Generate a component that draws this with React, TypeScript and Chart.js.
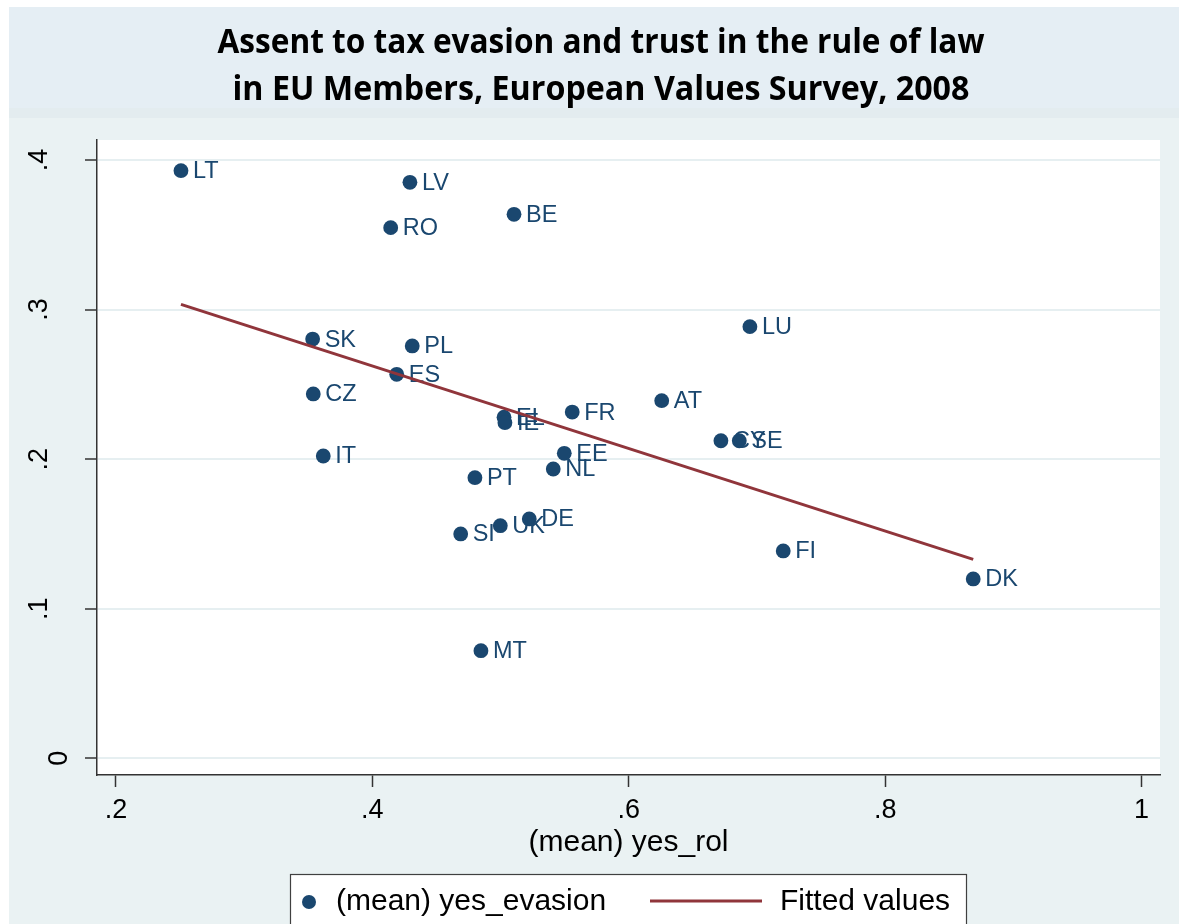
import React, { useEffect, useRef } from 'react';
import { Chart, registerables } from 'chart.js';

Chart.register(...registerables);

// ---------- data ----------
const countries = ['LT', 'LV', 'BE', 'RO', 'LU', 'SK', 'PL', 'ES', 'CZ', 'AT', 'FR', 'EL', 'IE', 'CY', 'SE', 'EE', 'IT', 'NL', 'PT', 'DE', 'UK', 'SI', 'FI', 'DK', 'MT'];
const yesRol = [0.2507, 0.4293, 0.5105, 0.4143, 0.6945, 0.3534, 0.4311, 0.419, 0.3539, 0.6257, 0.5559, 0.5027, 0.5034, 0.6719, 0.6862, 0.5497, 0.3617, 0.5411, 0.48, 0.5224, 0.4998, 0.4689, 0.7205, 0.8687, 0.4847];
const yesEvasion = [0.3929, 0.3851, 0.3637, 0.3548, 0.2886, 0.2803, 0.2757, 0.2567, 0.2436, 0.2391, 0.2315, 0.228, 0.2244, 0.2123, 0.2123, 0.2039, 0.2021, 0.1934, 0.1876, 0.16, 0.1555, 0.15, 0.1386, 0.1199, 0.0719];
const fittedX = [0.2507, 0.8687];
const fittedY = [0.3035, 0.133];
const xTicks = [0.2, 0.4, 0.6, 0.8, 1];
const xTickLabels = ['.2', '.4', '.6', '.8', '1'];
const yTicks = [0, 0.1, 0.2, 0.3, 0.4];
const yTickLabels = ['0', '.1', '.2', '.3', '.4'];
const titleLines = ['Assent to tax evasion and trust in the rule of law', 'in EU Members, European Values Survey, 2008'];
const xTitle = '(mean) yes_rol';
const legendLabels = ['(mean) yes_evasion', 'Fitted values'];

// ---------- styles ----------
const NAVY = '#1a476f';
const MAROON = '#90353b';
const AXIS = '#333333';
const SANS = '"Liberation Sans", Arial, sans-serif';

function drawFitText(ctx: CanvasRenderingContext2D, text: string, cx: number, baseline: number, font: string, targetW: number) {
  ctx.save();
  ctx.font = font;
  const w = ctx.measureText(text).width;
  const sx = targetW / w;
  ctx.translate(cx, baseline);
  ctx.scale(sx, 1);
  ctx.textAlign = 'center';
  ctx.textBaseline = 'alphabetic';
  ctx.fillText(text, 0, 0);
  ctx.restore();
}

const decorPlugin = {
  id: 'stataDecor',
  beforeDraw(chart: any) {
    const { ctx, chartArea: a, width, height } = chart;
    ctx.save();
    ctx.fillStyle = '#ffffff';
    ctx.fillRect(0, 0, width, height);
    ctx.fillStyle = '#EAF2F3';
    ctx.fillRect(9, 7, width - 9, height - 7);
    ctx.fillStyle = '#E5EEF4';
    ctx.fillRect(9, 7, width - 9, 101);
    ctx.fillStyle = '#E3ECEF';
    ctx.fillRect(9, 108, width - 9, 10);
    ctx.fillStyle = '#ffffff';
    ctx.fillRect(a.left, a.top, a.right - a.left, a.bottom - a.top);
    // title
    ctx.fillStyle = '#000000';
    drawFitText(ctx, titleLines[0], 601, 53, `bold 34px "Open Sans", ${SANS}`, 767);
    drawFitText(ctx, titleLines[1], 601, 100, `bold 34px "Open Sans", ${SANS}`, 737);
    ctx.restore();
  },
  afterDatasetDraw(chart: any, args: any) {
    if (args.index !== 0) return;
    const { ctx } = chart;
    const meta = chart.getDatasetMeta(0);
    ctx.save();
    ctx.fillStyle = NAVY;
    ctx.font = `23.5px ${SANS}`;
    ctx.textAlign = 'left';
    ctx.textBaseline = 'middle';
    meta.data.forEach((el: any, i: number) => {
      ctx.fillText(countries[i], el.x + 12, el.y + 1);
    });
    ctx.restore();
  },
  afterDraw(chart: any) {
    const { ctx, chartArea: a } = chart;
    const xs = chart.scales.x;
    const ys = chart.scales.y;
    ctx.save();
    ctx.fillStyle = '#000000';
    // x tick labels
    ctx.font = `27px ${SANS}`;
    ctx.textAlign = 'center';
    ctx.textBaseline = 'middle';
    xTicks.forEach((v, i) => {
      ctx.fillText(xTickLabels[i], xs.getPixelForValue(v), 811);
    });
    // y tick labels (rotated)
    yTicks.forEach((v, i) => {
      ctx.save();
      ctx.translate(yTickLabels[i] === '0' ? 60 : 40, ys.getPixelForValue(v));
      ctx.rotate(-Math.PI / 2);
      ctx.fillText(yTickLabels[i], 0, 0);
      ctx.restore();
    });
    // x title
    ctx.font = `30px ${SANS}`;
    ctx.fillText(xTitle, (a.left + a.right) / 2, 843);
    // legend
    ctx.fillStyle = '#ffffff';
    ctx.fillRect(290, 874, 676, 70);
    ctx.strokeStyle = '#404040';
    ctx.lineWidth = 1.2;
    ctx.strokeRect(290.5, 874.5, 676, 70);
    ctx.fillStyle = NAVY;
    ctx.beginPath();
    ctx.arc(309, 902, 7, 0, Math.PI * 2);
    ctx.fill();
    ctx.strokeStyle = MAROON;
    ctx.lineWidth = 3;
    ctx.beginPath();
    ctx.moveTo(650, 901);
    ctx.lineTo(762, 901);
    ctx.stroke();
    ctx.fillStyle = '#000000';
    ctx.font = `30px ${SANS}`;
    ctx.textAlign = 'left';
    ctx.fillText(legendLabels[0], 336, 902);
    ctx.fillText(legendLabels[1], 780, 902);
    ctx.restore();
  },
};

export default function App() {
  const ref = useRef<HTMLCanvasElement | null>(null);
  useEffect(() => {
    document.body.style.margin = '0';
    const canvas = ref.current;
    if (!canvas) return;
    const chart = new Chart(canvas, {
      type: 'scatter',
      data: {
        datasets: [
          {
            label: legendLabels[0],
            data: yesRol.map((x, i) => ({ x, y: yesEvasion[i] })),
            backgroundColor: NAVY,
            borderWidth: 0,
            pointRadius: 7.4,
            pointHoverRadius: 7.4,
            order: 2,
          },
          {
            type: 'line',
            label: legendLabels[1],
            data: fittedX.map((x, i) => ({ x, y: fittedY[i] })),
            borderColor: MAROON,
            borderWidth: 3,
            pointRadius: 0,
            showLine: true,
            fill: false,
            order: 1,
          } as any,
        ],
      },
      options: {
        animation: false,
        responsive: false,
        maintainAspectRatio: false,
        events: [],
        layout: { padding: { top: 140, left: 0, right: 19, bottom: 89 } },
        plugins: { legend: { display: false }, tooltip: { enabled: false }, title: { display: false } },
        scales: {
          x: {
            type: 'linear',
            min: 0.1852,
            max: 1.0144,
            afterBuildTicks: (s: any) => { s.ticks = xTicks.map((v) => ({ value: v })); },
            afterFit: (s: any) => { s.height = 60; },
            ticks: { display: false },
            grid: { drawOnChartArea: false, drawTicks: true, tickLength: 12, tickColor: AXIS, tickWidth: 1.5 },
            border: { display: true, color: AXIS, width: 1.5 },
          },
          y: {
            type: 'linear',
            min: -0.0112,
            max: 0.4134,
            afterBuildTicks: (s: any) => { s.ticks = yTicks.map((v) => ({ value: v })); },
            afterFit: (s: any) => { s.width = 97; },
            ticks: { display: false },
            grid: { color: '#E6EFF1', lineWidth: 2, drawTicks: true, tickLength: 12, tickColor: AXIS, tickWidth: 1.5 },
            border: { display: true, color: AXIS, width: 1.5 },
          },
        },
      },
      plugins: [decorPlugin],
    } as any);
    return () => chart.destroy();
  }, []);
  return <canvas ref={ref} width={1179} height={924} style={{ display: 'block', width: 1179, height: 924 }} />;
}
